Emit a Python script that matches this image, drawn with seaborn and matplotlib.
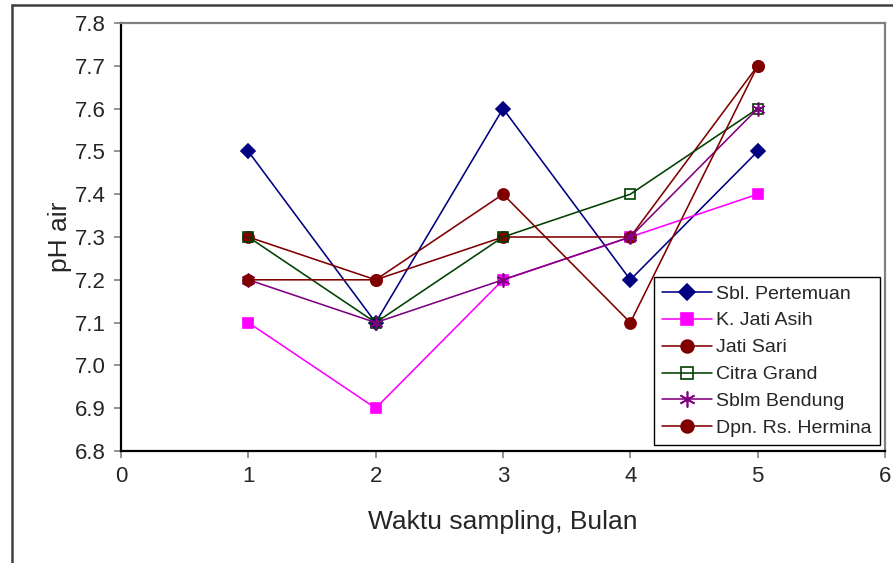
import matplotlib
matplotlib.use("Agg")
import matplotlib.pyplot as plt
from matplotlib.lines import Line2D
from matplotlib.ticker import FormatStrFormatter, MultipleLocator
import seaborn as sns
import pandas as pd

# Sampling months and water pH per location
months = [1, 2, 3, 4, 5]
sbl_pertemuan = [7.5, 7.1, 7.6, 7.2, 7.5]
k_jati_asih = [7.1, 6.9, 7.2, 7.3, 7.4]
jati_sari = [7.3, 7.2, 7.3, 7.3, 7.7]
citra_grand = [7.3, 7.1, 7.3, 7.4, 7.6]
sblm_bendung = [7.2, 7.1, 7.2, 7.3, 7.6]
dpn_rs_hermina = [7.2, 7.2, 7.4, 7.1, 7.7]

series_names = ["Sbl. Pertemuan", "K. Jati Asih", "Jati Sari",
                "Citra Grand", "Sblm Bendung", "Dpn. Rs. Hermina"]
series_values = [sbl_pertemuan, k_jati_asih, jati_sari,
                 citra_grand, sblm_bendung, dpn_rs_hermina]

styles = {
    "Sbl. Pertemuan": dict(color="#000080", marker="D", ms=7, mfc="#000080"),
    "K. Jati Asih": dict(color="#FF00FF", marker="s", ms=7.5, mfc="#FF00FF"),
    "Jati Sari": dict(color="#800000", marker="o", ms=8, mfc="#800000"),
    "Citra Grand": dict(color="#004000", marker="s", ms=7.5, mfc="none"),
    "Sblm Bendung": dict(color="#800080", marker=(6, 2, 0), ms=10, mfc="#800080"),
    "Dpn. Rs. Hermina": dict(color="#800000", marker="o", ms=8, mfc="#800000"),
}

df = pd.DataFrame(
    [(m, v, name) for name, vals in zip(series_names, series_values)
     for m, v in zip(months, vals)],
    columns=["bulan", "ph", "lokasi"],
)

sns.set_style("white")
plt.rcParams["font.family"] = ["Liberation Sans", "DejaVu Sans"]

fig = plt.figure(figsize=(8.93, 5.63), dpi=100)
ax = fig.add_axes([121 / 893, 1 - 451 / 563, (885 - 121) / 893, (451 - 23) / 563])

for name in series_names:
    st = styles[name]
    sub = df[df["lokasi"] == name]
    sns.lineplot(data=sub, x="bulan", y="ph", ax=ax, color=st["color"],
                 marker=st["marker"], markersize=st["ms"],
                 markerfacecolor=st["mfc"], markeredgecolor=st["color"],
                 markeredgewidth=1.2, linewidth=1.15, label=name,
                 estimator=None, sort=False)

ax.set_xlim(0, 6)
ax.set_ylim(6.8, 7.8)
ax.xaxis.set_major_locator(MultipleLocator(1))
ax.yaxis.set_major_locator(MultipleLocator(0.1))
ax.yaxis.set_major_formatter(FormatStrFormatter("%.1f"))
ax.tick_params(axis="both", direction="out", length=5, width=1.2,
               color="#808080", labelsize=16, pad=6)
ax.tick_params(left=True, bottom=True)

for side in ["left", "bottom"]:
    ax.spines[side].set_color("black")
    ax.spines[side].set_linewidth(1.6)
for side in ["top", "right"]:
    ax.spines[side].set_color("#808080")
    ax.spines[side].set_linewidth(1.6)

ax.set_xlabel("Waktu sampling, Bulan", fontsize=19, labelpad=16)
ax.set_ylabel("pH air", fontsize=19, labelpad=2)

handles, labels = ax.get_legend_handles_labels()
leg = ax.legend(handles, labels, loc="lower right",
                bbox_to_anchor=(0.993, 0.014), fontsize=14, frameon=True,
                fancybox=False, edgecolor="black", framealpha=1,
                handlelength=2.6, labelspacing=0.48, borderpad=0.4,
                handletextpad=0.2, borderaxespad=0, markerscale=1.15)
leg.get_frame().set_linewidth(1.0)

# Outer chart border along the left and top edges
fig.add_artist(Line2D([11.5 / 893, 11.5 / 893], [0, 1 - 5 / 563],
                      transform=fig.transFigure, color="#404040", lw=1.8))
fig.add_artist(Line2D([11.5 / 893, 1], [1 - 5 / 563, 1 - 5 / 563],
                      transform=fig.transFigure, color="#404040", lw=1.8))

fig.savefig("out.png", dpi=100)
